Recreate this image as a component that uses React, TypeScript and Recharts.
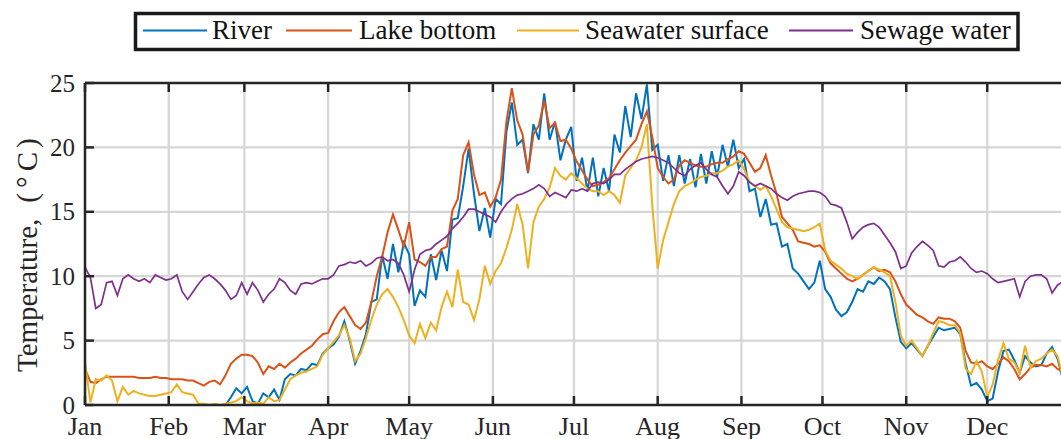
import React from "react";
import {
  CartesianGrid,
  Line,
  LineChart,
  ReferenceLine,
  XAxis,
  YAxis,
} from "recharts";

// x axis: day of year, one sample every second day (0 .. 364)
const monthStarts = [0, 31, 59, 90, 120, 151, 181, 212, 243, 273, 304, 334];
const monthLabels = ["Jan", "Feb", "Mar", "Apr", "May", "Jun", "Jul", "Aug", "Sep", "Oct", "Nov", "Dec"];
const tempTicks = [0, 5, 10, 15, 20, 25];

const sampleDays = Array.from({ length: 183 }, (_, i) => i * 2);

// values, °C, one row ~ 30 days
const river = [
  0, 0, 0, 0, 0, 0, 0, 0, 0, 0, 0, 0, 0, 0, 0,
  0, 0, 0, 0, 0, 0, 0, 0, 0, 0, 0, 0, 0.6, 1.3, 0.9,
  1.4, 0.3, 0.1, 0.9, 0.6, 1.2, 0.4, 2.0, 2.4, 2.3, 2.8, 2.7, 3.2, 3.1, 4.0,
  4.4, 4.7, 5.3, 6.5, 5.0, 3.2, 4.2, 5.5, 8.0, 8.2, 11.6, 9.8, 12.5, 10.3, 12.6,
  11.7, 7.7, 8.9, 8.4, 11.7, 9.7, 12.0, 10.4, 14.4, 14.5, 17.0, 19.9, 16.4, 13.5, 15.3,
  13.0, 16.0, 15.6, 21.2, 23.5, 20.2, 20.6, 18.0, 21.8, 20.6, 24.2, 20.6, 22.0, 19.0, 20.6,
  21.6, 17.4, 19.2, 16.6, 19.2, 16.2, 18.4, 16.6, 21.0, 19.6, 23.2, 20.8, 24.2, 22.2, 24.9,
  19.8, 20.2, 17.4, 19.4, 17.0, 19.4, 17.2, 19.1, 16.9, 19.5, 17.2, 19.7, 17.7, 20.2, 18.5,
  20.6, 18.4, 19.1, 16.6, 16.8, 14.6, 16.0, 14.0, 14.1, 12.3, 12.5, 10.6, 10.2, 9.6, 9.0,
  9.5, 11.2, 9.0, 8.4, 7.4, 6.9, 7.2, 8.0, 9.0, 8.8, 9.6, 9.4, 9.9, 9.6, 9.0,
  6.8, 4.9, 4.4, 4.8, 4.3, 3.8, 4.6, 5.3, 6.0, 5.8, 5.9, 6.0, 5.5, 3.2, 1.5,
  1.7, 1.2, 0.3, 0.5, 2.6, 4.2, 4.3, 3.5, 2.5, 3.8, 3.3, 3.0, 3.1, 4.0, 4.5,
  3.6, 2.0, 1.6,
];

const lakeBottom = [
  2.8, 1.8, 1.7, 2.0, 2.2, 2.2, 2.2, 2.2, 2.2, 2.2, 2.1, 2.1, 2.1, 2.2, 2.1,
  2.1, 2.0, 2.0, 2.0, 1.9, 1.9, 1.7, 1.5, 1.8, 1.9, 1.6, 2.3, 3.2, 3.6, 3.9,
  3.9, 3.8, 3.3, 2.4, 3.0, 2.8, 3.2, 2.9, 3.3, 3.6, 4.0, 4.3, 4.6, 5.1, 5.5,
  5.6, 6.5, 7.2, 7.6, 6.9, 6.2, 5.9, 6.4, 8.0, 10.0, 11.5, 13.4, 14.8, 13.6, 12.3,
  14.2, 11.3, 11.1, 10.8, 11.5, 11.5, 12.1, 12.3, 15.1, 16.0, 19.4, 20.4, 17.9, 16.3, 16.5,
  15.4, 16.1, 17.5, 22.0, 24.6, 22.1, 21.0, 18.1, 21.0, 21.7, 23.6, 21.5, 21.9, 20.5, 20.6,
  19.9, 18.9, 18.2, 17.5, 17.0, 17.1, 17.3, 17.6, 18.3, 19.0, 19.6, 20.1, 20.6, 21.8, 22.8,
  20.8, 18.4, 17.7, 17.2, 17.5, 18.6, 19.0, 18.8, 18.6, 18.5, 18.5, 18.7, 18.8, 18.8, 19.1,
  19.3, 19.7, 19.5, 18.8, 18.1, 18.4, 19.4, 17.8, 16.4, 14.6, 14.1, 13.6, 12.7, 12.6, 12.5,
  12.3, 12.4, 11.9, 11.0, 10.6, 10.2, 9.8, 9.6, 9.8, 10.1, 10.4, 10.7, 10.4, 10.5, 10.3,
  9.6, 8.6, 7.8, 7.4, 7.0, 6.8, 6.5, 6.3, 6.8, 6.7, 6.7, 6.5, 6.0, 4.2, 3.3,
  3.2, 3.4, 3.0, 2.8, 3.2, 3.7, 3.4, 2.8, 2.0, 2.4, 2.9, 3.1, 3.1, 3.0, 3.2,
  2.8, 2.6, 2.0,
];

const seawaterSurface = [
  3.3, 0.2, 2.0, 1.9, 2.3, 1.9, 0.3, 1.4, 0.8, 1.1, 0.9, 0.8, 0.7, 0.7, 0.8,
  0.9, 1.0, 1.6, 1.0, 0.9, 0.8, 0.1, 0.1, 0.0, 0.1, 0.0, 0.1, 0.2, 0.3, 0.6,
  0.3, 0.1, 0.2, 0.1, 0.6, 0.3, 0.4, 1.2, 2.0, 2.3, 2.5, 2.6, 2.8, 3.0, 3.9,
  4.4, 4.9, 5.4, 6.2, 5.2, 3.4, 4.0, 5.2, 6.6, 7.8, 8.6, 9.0, 8.4, 7.6, 6.6,
  5.4, 4.8, 6.3, 5.2, 6.4, 5.8, 7.6, 8.8, 7.6, 10.5, 8.0, 7.8, 6.6, 8.2, 10.8,
  9.4, 10.4, 11.0, 12.2, 13.6, 15.6, 14.0, 10.6, 14.2, 15.4, 16.0, 16.9, 18.4, 17.8, 17.5,
  18.0, 17.6, 17.2, 16.8, 16.6, 16.6, 16.3, 16.6, 16.3, 15.7, 17.8, 18.4, 19.0, 20.0, 21.8,
  15.5, 10.6, 12.8, 14.2, 15.6, 16.6, 17.0, 17.2, 17.5, 17.7, 17.8, 18.0, 18.0, 18.2, 18.5,
  18.7, 19.0, 18.3, 17.3, 17.0, 16.7, 17.0, 16.2, 15.2, 14.2, 13.8, 13.7, 13.6, 13.5, 13.6,
  13.8, 14.1, 12.0, 11.2, 10.9, 10.6, 10.2, 10.0, 9.8, 10.1, 10.4, 10.7, 10.5, 10.3, 10.0,
  8.0, 5.4, 4.6, 5.0, 4.4, 3.8, 4.6, 5.6, 6.5, 6.4, 6.2, 6.2, 5.6, 2.8, 2.4,
  3.4, 2.6, 0.6, 1.6, 3.5, 4.8, 3.6, 3.3, 2.5, 4.6, 2.9, 3.4, 3.6, 4.0, 4.3,
  3.8, 2.2, 1.5,
];

const sewageWater = [
  10.7, 9.9, 7.5, 7.8, 9.5, 9.6, 8.5, 9.8, 10.1, 9.8, 9.6, 9.8, 9.5, 10.1, 9.9,
  9.7, 9.8, 10.1, 8.8, 8.2, 8.8, 9.4, 9.9, 10.1, 9.8, 9.4, 8.9, 8.2, 8.5, 9.5,
  8.6, 9.5, 8.9, 8.0, 8.6, 9.0, 9.8, 9.5, 8.9, 8.6, 9.4, 9.5, 9.4, 9.6, 9.8,
  9.8, 10.1, 10.8, 10.9, 11.1, 11.0, 11.2, 10.8, 11.0, 11.4, 11.5, 11.2, 11.3, 11.0, 10.1,
  8.8, 10.5, 11.7, 12.0, 12.1, 12.5, 12.8, 13.1, 13.7, 14.1, 14.6, 15.2, 15.2, 15.0, 14.8,
  14.6, 14.2, 15.0, 15.6, 16.0, 16.3, 16.4, 16.6, 16.8, 17.1, 16.8, 16.2, 16.5, 16.3, 16.1,
  16.7, 16.6, 16.8, 16.6, 17.2, 17.3, 17.2, 17.5, 17.9, 17.9, 18.3, 18.6, 18.9, 19.1, 19.2,
  19.3, 19.2, 19.0, 18.8, 18.4, 18.0, 17.8, 18.3, 18.6, 18.8, 18.3, 17.9, 17.7, 17.0, 16.4,
  17.0, 18.1, 17.8, 17.3, 17.0, 17.2, 17.0, 16.8, 16.4, 16.1, 15.9, 16.2, 16.4, 16.5, 16.6,
  16.6, 16.5, 16.2, 15.6, 15.5, 15.3, 14.2, 12.9, 13.4, 13.8, 14.0, 14.1, 13.8, 13.2, 12.6,
  11.9, 10.6, 10.8, 11.8, 12.3, 12.7, 12.4, 12.0, 10.8, 10.7, 11.1, 11.2, 11.5, 11.1, 10.6,
  10.3, 10.4, 10.2, 9.8, 9.5, 9.6, 9.7, 9.8, 8.4, 9.6, 10.0, 10.1, 10.1, 9.8, 8.7,
  9.3, 9.6, 9.8,
];

const seriesKeys = ["river", "lake", "sea", "sewage"];
const seriesNames = ["River", "Lake bottom", "Seawater surface", "Sewage water"];
const seriesColors = ["#0072BD", "#D95319", "#EDB120", "#7E2F8E"];

const data = sampleDays.map((day, i) => ({
  day,
  river: river[i],
  lake: lakeBottom[i],
  sea: seawaterSurface[i],
  sewage: sewageWater[i],
}));

const INK = "#262626";
const SERIF = "'Liberation Serif', 'Times New Roman', serif";
const PLOT_W = 986;
const PLOT_H = 322;

function MonthTick(props: any) {
  const { x, y, payload } = props;
  const label = monthLabels[monthStarts.indexOf(payload.value)];
  return (
    <g>
      <line x1={x} x2={x} y1={y} y2={y - 9} stroke={INK} strokeWidth={2.5} />
      <line x1={x} x2={x} y1={y - PLOT_H} y2={y - PLOT_H + 9} stroke={INK} strokeWidth={2.5} />
      <text x={x} y={y + 30} textAnchor="middle" fontFamily={SERIF} fontSize={26} fill={INK}>
        {label}
      </text>
    </g>
  );
}

function TempTick(props: any) {
  const { x, y, payload } = props;
  return (
    <g>
      <line x1={x} x2={x + 9} y1={y} y2={y} stroke={INK} strokeWidth={2.5} />
      <line x1={x + PLOT_W} x2={x + PLOT_W - 9} y1={y} y2={y} stroke={INK} strokeWidth={2.5} />
      <text x={x - 10} y={y + 8.5} textAnchor="end" fontFamily={SERIF} fontSize={25} fill={INK}>
        {payload.value}
      </text>
    </g>
  );
}

const legendSlots = [
  { x1: 143, x2: 207, tx: 212 },
  { x1: 286, x2: 352, tx: 359 },
  { x1: 517, x2: 579, tx: 585 },
  { x1: 789, x2: 853, tx: 860 },
];

export default function App() {
  return (
    <div
      style={{
        position: "absolute",
        left: 0,
        top: 0,
        width: 1061,
        height: 439,
        overflow: "hidden",
        background: "#fff",
      }}
    >
      <LineChart
        width={1080}
        height={439}
        data={data}
        margin={{ top: 83, right: 9, bottom: 0, left: 0 }}
      >
        <CartesianGrid stroke="#d6d6d6" strokeWidth={2.2} />
        <XAxis
          dataKey="day"
          type="number"
          domain={[0, 365]}
          ticks={monthStarts}
          interval={0}
          height={34}
          tickSize={0}
          tickMargin={0}
          tickLine={false}
          axisLine={{ stroke: INK, strokeWidth: 2.5 }}
          tick={<MonthTick />}
        />
        <YAxis
          type="number"
          domain={[0, 25]}
          ticks={tempTicks}
          interval={0}
          width={85}
          tickSize={0}
          tickMargin={0}
          tickLine={false}
          axisLine={{ stroke: INK, strokeWidth: 2.5 }}
          tick={<TempTick />}
        />
        {seriesKeys.map((k, i) => (
          <Line
            key={k}
            dataKey={k}
            name={seriesNames[i]}
            stroke={seriesColors[i]}
            strokeWidth={i === 3 ? 1.7 : 2}
            dot={false}
            type="linear"
            isAnimationActive={false}
          />
        ))}
        <ReferenceLine y={25} stroke={INK} strokeWidth={2.5} />
        <ReferenceLine x={365} stroke={INK} strokeWidth={2.5} />
      </LineChart>

      <svg
        width={1061}
        height={439}
        style={{ position: "absolute", left: 0, top: 0, pointerEvents: "none" }}
      >
        <rect x={135.5} y={13.5} width={882.5} height={36} fill="#fff" stroke="#1a1a1a" strokeWidth={3.5} />
        {legendSlots.map((s, i) => (
          <g key={seriesKeys[i]}>
            <line x1={s.x1} x2={s.x2} y1={30.5} y2={30.5} stroke={seriesColors[i]} strokeWidth={1.8} />
            <text x={s.tx} y={38.5} fontFamily={SERIF} fontSize={27} fill="#111">
              {seriesNames[i]}
            </text>
          </g>
        ))}
        <text
          transform="rotate(-90)"
          x={-372}
          y={37}
          fontFamily={SERIF}
          fontSize={29}
          fill={INK}
        >
          Temperature,
          <tspan dx={16}>(</tspan>
          <tspan dx={5}>°</tspan>
          <tspan dx={5}>C</tspan>
          <tspan dx={4}>)</tspan>
        </text>
      </svg>
    </div>
  );
}
